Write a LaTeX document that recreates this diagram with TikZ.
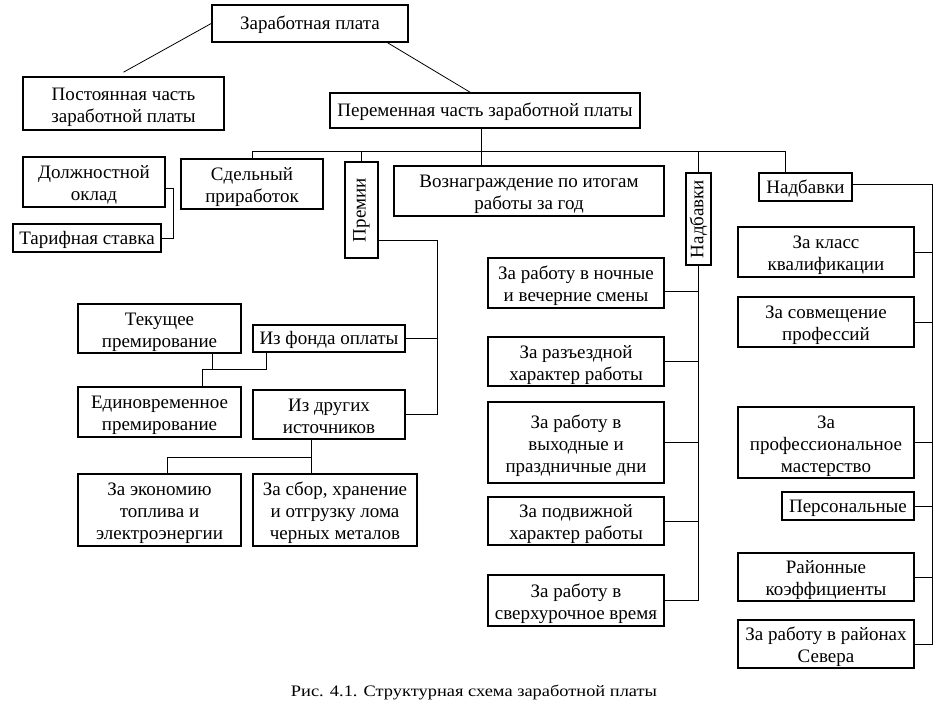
\documentclass[tikz,border=0pt]{standalone}
\usepackage{fontspec}
\setmainfont{Liberation Serif}
\usetikzlibrary{calc}
\newcommand{\fs}{\rule{0pt}{19.5pt}}
\newcommand{\ls}{\rule[-4pt]{0pt}{4pt}}
\begin{document}
\begin{tikzpicture}[x=1pt,y=-1pt,
  box/.style={draw, line width=1.6pt, align=center, inner sep=0pt, font=\fontsize{19}{22}\selectfont},
  sbox/.style={box, execute at begin node={\rule[-4pt]{0pt}{21pt}}},
  conn/.style={line width=0.8pt},
  bw/.style 2 args={minimum width=#1pt, minimum height=#2pt}]
\useasboundingbox[fill=white] (0,0) rectangle (942,710);
% top
\node[sbox,bw={196}{37}] (zp) at (310,23.5) {Заработная плата};
\node[box,bw={201}{53}] (post) at (123.5,103.5) {\fs Постоянная часть\\заработной платы\ls};
\node[sbox,bw={310}{35}] (pe) at (485,110.5) {Переменная часть заработной платы};
% left
\node[box,bw={142}{50}] (dol) at (94,182) {\fs Должностной\\оклад\ls};
\node[sbox,bw={148}{28}] (tar) at (87,238) {Тарифная ставка};
\node[box,bw={142}{50}] (sd) at (252,184) {\fs Сдельный\\приработок\ls};
\node[box,bw={96}{33},rotate=90] (prem) at (361.5,210) {Премии};
\node[box,bw={270}{50}] (voz) at (529,191) {\fs Вознаграждение по итогам\\работы за год\ls};
\node[box,bw={92}{25},rotate=90] (nadv) at (698.5,219) {Надбавки};
\node[sbox,bw={93}{28}] (nadh) at (805.5,187) {Надбавки};
% premii subtree
\node[box,bw={163}{49}] (tek) at (159.5,328.5) {\fs Текущее\\премирование\ls};
\node[sbox,bw={152}{27}] (fo) at (329,338.5) {Из фонда оплаты};
\node[box,bw={163}{50}] (ed) at (159.5,412) {\fs Единовременное\\премирование\ls};
\node[box,bw={152}{49}] (dr) at (329,414.5) {\fs Из других\\источников\ls};
\node[box,bw={163}{72}] (ek) at (159.5,510) {\fs За экономию\\топлива и\\электроэнергии\ls};
\node[box,bw={164}{72}] (sb) at (335,510) {\fs За сбор, хранение\\и отгрузку лома\\черных металов\ls};
% nadbavki vertical column
\node[box,bw={176}{50}] (noch) at (576,283) {\fs За работу в ночные\\и вечерние смены\ls};
\node[box,bw={176}{49}] (razj) at (576,361.5) {\fs За разъездной\\характер работы\ls};
\node[box,bw={176}{81}] (vyh) at (576,442.5) {\fs За работу в\\выходные и\\праздничные дни\ls};
\node[box,bw={176}{48}] (podv) at (576,521) {\fs За подвижной\\характер работы\ls};
\node[box,bw={176}{51}] (sverh) at (576,600.5) {\fs За работу в\\сверхурочное время\ls};
% nadbavki horizontal column
\node[box,bw={176}{50}] (klass) at (826,252) {\fs За класс\\квалификации\ls};
\node[box,bw={176}{50}] (sovm) at (826,322) {\fs За совмещение\\профессий\ls};
\node[box,bw={176}{71}] (prof) at (826,442.5) {\fs За\\профессиональное\\мастерство\ls};
\node[sbox,bw={132}{28}] (pers) at (848,506) {Персональные};
\node[box,bw={176}{48}] (raion) at (826,577) {\fs Районные\\коэффициенты\ls};
\node[box,bw={176}{48}] (sev) at (826,644) {\fs За работу в районах\\Севера\ls};
% caption
\node[font=\fontsize{16}{19}\selectfont, inner sep=0pt, xscale=1.15] (cap) at (474,692) {Рис. 4.1. Структурная схема заработной платы};
% coordinates
\coordinate (busL) at (252,151);
\coordinate (busR) at (785,151);
\coordinate (vx) at (481,151);
\coordinate (pr) at (437,240);
\coordinate (k) at (266,369);
\coordinate (j) at (202,369);
\coordinate (t) at (212,369);
\coordinate (m) at (311,457);
\coordinate (n) at (167,457);
\coordinate (rr) at (932,184);
% connectors
\draw[conn] (zp.west) -- ([yshift=4pt]post.north);
\draw[conn] ($(zp.south west)!0.893!(zp.south east)$) -- ($(pe.north west)!0.452!(pe.north east)$);
\draw[conn] (vx |- pe.south) -- (vx |- voz.north);
\draw[conn] (sd.north) -- (busL) -- (busR) -- (busR |- nadh.north);
\draw[conn] (prem.east |- busL) -- (prem.east);
\draw[conn] (nadv.east |- busL) -- (nadv.east);
\draw[conn] ([yshift=-6pt]dol.east) -- ++(8,0) |- (tar.east);
\draw[conn] (prem.south |- pr) -- (pr) |- (dr.east);
\draw[conn] (fo.east) -- (fo.east -| pr);
\draw[conn] (k |- fo.south) -- (k) -- (j) -- (j |- ed.north);
\draw[conn] (t |- tek.south) -- (t);
\draw[conn] (m |- dr.south) -- (m |- sb.north);
\draw[conn] (m) -- (n) -- (n |- ek.north);
\draw[conn] (nadv.west) -- (nadv.west |- sverh.east) -- (sverh.east);
\draw[conn] ([yshift=-8pt]noch.east) -- ([yshift=-8pt]noch.east -| nadv.west);
\draw[conn] (razj.east) -- (razj.east -| nadv.west);
\draw[conn] (vyh.east) -- (vyh.east -| nadv.west);
\draw[conn] (podv.east) -- (podv.east -| nadv.west);
\draw[conn] (nadh.east |- rr) -- (rr) |- (sev.east);
\draw[conn] (klass.east) -- (klass.east -| rr);
\draw[conn] (sovm.east) -- (sovm.east -| rr);
\draw[conn] (prof.east) -- (prof.east -| rr);
\draw[conn] (pers.east) -- (pers.east -| rr);
\draw[conn] (raion.east) -- (raion.east -| rr);
\end{tikzpicture}
\end{document}
